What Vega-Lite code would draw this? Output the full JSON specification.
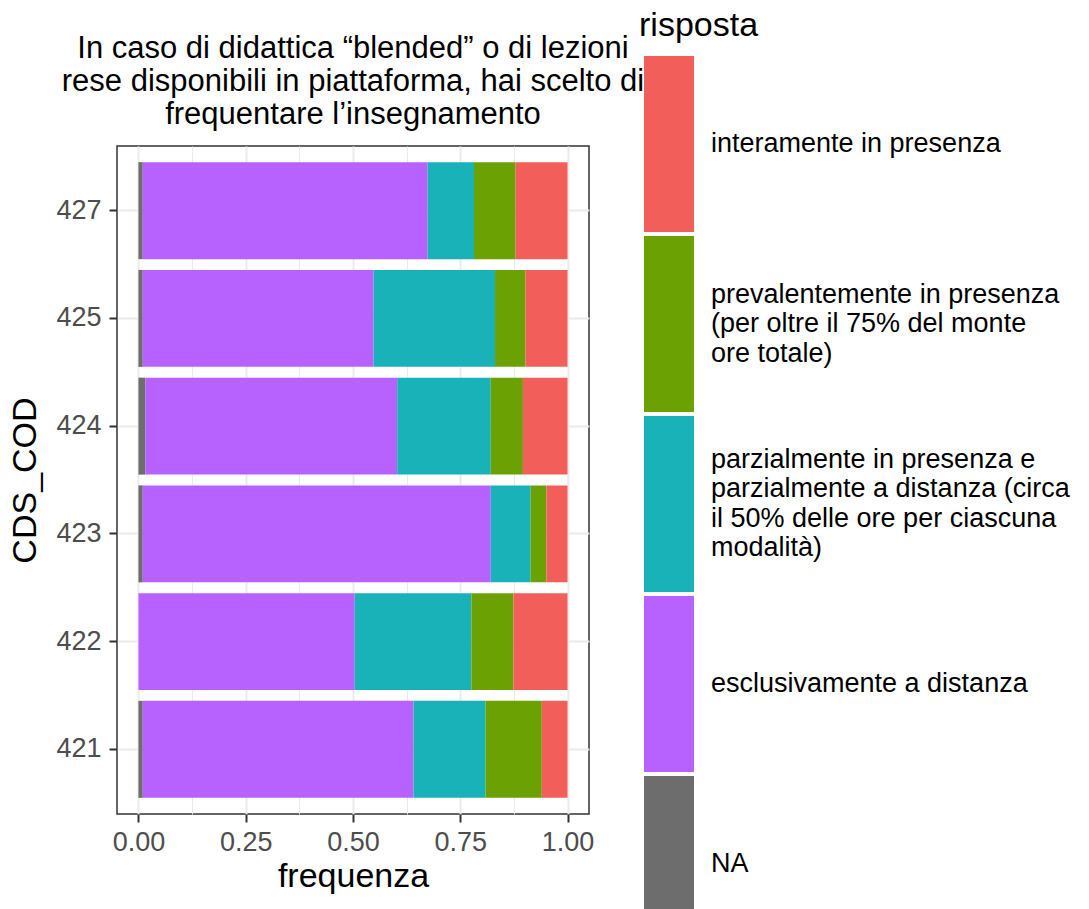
{
  "$schema": "https://vega.github.io/schema/vega-lite/v6.json",
  "width": 472,
  "height": 668,
  "autosize": {"type": "none"},
  "padding": {"left": 117, "top": 146, "right": 500, "bottom": 95},
  "background": "white",
  "title": {
    "text": ["In caso di didattica “blended” o di lezioni", "rese disponibili in piattaforma, hai scelto di", "frequentare l’insegnamento"],
    "fontSize": 31,
    "lineHeight": 33,
    "font": "Liberation Sans",
    "fontWeight": "normal",
    "color": "black",
    "anchor": "middle",
    "frame": "group",
    "offset": -122
  },
  "data": {
    "values": [
      {"CDS_COD": "427", "risposta": "NA", "frequenza": 0.010},
      {"CDS_COD": "427", "risposta": "esclusivamente a distanza", "frequenza": 0.664},
      {"CDS_COD": "427", "risposta": "parzialmente in presenza e parzialmente a distanza (circa il 50% delle ore per ciascuna modalità)", "frequenza": 0.108},
      {"CDS_COD": "427", "risposta": "prevalentemente in presenza (per oltre il 75% del monte ore totale)", "frequenza": 0.097},
      {"CDS_COD": "427", "risposta": "interamente in presenza", "frequenza": 0.121},
      {"CDS_COD": "425", "risposta": "NA", "frequenza": 0.010},
      {"CDS_COD": "425", "risposta": "esclusivamente a distanza", "frequenza": 0.538},
      {"CDS_COD": "425", "risposta": "parzialmente in presenza e parzialmente a distanza (circa il 50% delle ore per ciascuna modalità)", "frequenza": 0.283},
      {"CDS_COD": "425", "risposta": "prevalentemente in presenza (per oltre il 75% del monte ore totale)", "frequenza": 0.071},
      {"CDS_COD": "425", "risposta": "interamente in presenza", "frequenza": 0.098},
      {"CDS_COD": "424", "risposta": "NA", "frequenza": 0.016},
      {"CDS_COD": "424", "risposta": "esclusivamente a distanza", "frequenza": 0.587},
      {"CDS_COD": "424", "risposta": "parzialmente in presenza e parzialmente a distanza (circa il 50% delle ore per ciascuna modalità)", "frequenza": 0.218},
      {"CDS_COD": "424", "risposta": "prevalentemente in presenza (per oltre il 75% del monte ore totale)", "frequenza": 0.075},
      {"CDS_COD": "424", "risposta": "interamente in presenza", "frequenza": 0.104},
      {"CDS_COD": "423", "risposta": "NA", "frequenza": 0.010},
      {"CDS_COD": "423", "risposta": "esclusivamente a distanza", "frequenza": 0.811},
      {"CDS_COD": "423", "risposta": "parzialmente in presenza e parzialmente a distanza (circa il 50% delle ore per ciascuna modalità)", "frequenza": 0.093},
      {"CDS_COD": "423", "risposta": "prevalentemente in presenza (per oltre il 75% del monte ore totale)", "frequenza": 0.037},
      {"CDS_COD": "423", "risposta": "interamente in presenza", "frequenza": 0.049},
      {"CDS_COD": "422", "risposta": "esclusivamente a distanza", "frequenza": 0.504},
      {"CDS_COD": "422", "risposta": "parzialmente in presenza e parzialmente a distanza (circa il 50% delle ore per ciascuna modalità)", "frequenza": 0.272},
      {"CDS_COD": "422", "risposta": "prevalentemente in presenza (per oltre il 75% del monte ore totale)", "frequenza": 0.098},
      {"CDS_COD": "422", "risposta": "interamente in presenza", "frequenza": 0.126},
      {"CDS_COD": "421", "risposta": "NA", "frequenza": 0.010},
      {"CDS_COD": "421", "risposta": "esclusivamente a distanza", "frequenza": 0.631},
      {"CDS_COD": "421", "risposta": "parzialmente in presenza e parzialmente a distanza (circa il 50% delle ore per ciascuna modalità)", "frequenza": 0.168},
      {"CDS_COD": "421", "risposta": "prevalentemente in presenza (per oltre il 75% del monte ore totale)", "frequenza": 0.131},
      {"CDS_COD": "421", "risposta": "interamente in presenza", "frequenza": 0.060}
    ]
  },
  "transform": [
    {"calculate": "indexof(['NA', 'esclusivamente a distanza', 'parzialmente in presenza e parzialmente a distanza (circa il 50% delle ore per ciascuna modalità)', 'prevalentemente in presenza (per oltre il 75% del monte ore totale)', 'interamente in presenza'], datum.risposta)", "as": "ord"}
  ],
  "mark": {"type": "bar"},
  "encoding": {
    "y": {
      "field": "CDS_COD",
      "type": "nominal",
      "sort": "descending",
      "scale": {"paddingInner": 0.1, "paddingOuter": 0.15},
      "axis": {
        "title": "CDS_COD",
        "titleFontSize": 34,
        "titleFontWeight": "normal",
        "titleColor": "black",
        "titlePadding": 13,
        "labelFontSize": 27,
        "labelColor": "#4D4D4D",
        "labelPadding": 8,
        "tickSize": 8,
        "tickWidth": 2,
        "tickColor": "#333333",
        "domain": false,
        "grid": true,
        "gridColor": "#EBEBEB",
        "gridWidth": 2,
        "bandPosition": 0.5
      }
    },
    "x": {
      "field": "frequenza",
      "type": "quantitative",
      "stack": "zero",
      "scale": {"domain": [-0.05, 1.05], "nice": false, "zero": false},
      "axis": {
        "title": "frequenza",
        "titleFontSize": 34,
        "titleFontWeight": "normal",
        "titleColor": "black",
        "titlePadding": 4,
        "values": [0, 0.125, 0.25, 0.375, 0.5, 0.625, 0.75, 0.875, 1],
        "labelExpr": "(datum.value * 4) % 1 == 0 ? format(datum.value, '.2f') : ''",
        "labelFontSize": 27,
        "labelColor": "#4D4D4D",
        "labelPadding": 7,
        "labelFlush": false,
        "labelOverlap": false,
        "tickSize": 8,
        "tickWidth": 2,
        "tickColor": "#333333",
        "tickOpacity": {"condition": {"test": "(datum.value * 4) % 1 != 0", "value": 0}, "value": 1},
        "domain": false,
        "grid": true,
        "gridColor": "#EBEBEB",
        "gridWidth": {"condition": {"test": "(datum.value * 4) % 1 == 0", "value": 2}, "value": 1}
      }
    },
    "color": {
      "field": "risposta",
      "type": "nominal",
      "scale": {
        "domain": ["interamente in presenza", "prevalentemente in presenza (per oltre il 75% del monte ore totale)", "parzialmente in presenza e parzialmente a distanza (circa il 50% delle ore per ciascuna modalità)", "esclusivamente a distanza", "NA"],
        "range": ["#F25F5A", "#6BA102", "#18B2B8", "#B762FF", "#6D6D6D"]
      },
      "legend": {
        "title": "risposta",
        "orient": "none",
        "legendX": 522,
        "legendY": -137,
        "titleFontSize": 34,
        "titleFontWeight": "normal",
        "titleColor": "black",
        "titlePadding": 13,
        "labelFontSize": 27,
        "labelColor": "black",
        "labelLimit": 700,
        "labelOffset": -46,
        "symbolOffset": -58,
        "symbolType": "M-0.284,-1H0.284V1H-0.284Z",
        "symbolSize": 30976,
        "symbolStrokeWidth": 0,
        "symbolOpacity": 1,
        "rowPadding": 4,
        "padding": 0,
        "labelExpr": "datum.label == 'prevalentemente in presenza (per oltre il 75% del monte ore totale)' ? ['prevalentemente in presenza', '(per oltre il 75% del monte', 'ore totale)'] : datum.label == 'parzialmente in presenza e parzialmente a distanza (circa il 50% delle ore per ciascuna modalità)' ? ['parzialmente in presenza e', 'parzialmente a distanza (circa', 'il 50% delle ore per ciascuna', 'modalità)'] : datum.label"
      }
    },
    "order": {"field": "ord", "type": "quantitative"}
  },
  "config": {
    "font": "Liberation Sans",
    "view": {"stroke": "#333333", "strokeWidth": 1.5},
    "style": {
      "guide-label": {
        "lineHeight": 29.5,
        "dy": {"expr": "indexof(datum.label + '', 'prevalentemente') == 0 ? -29.5 : indexof(datum.label + '', 'parzialmente') == 0 ? -44.25 : 0"}
      }
    }
  }
}
